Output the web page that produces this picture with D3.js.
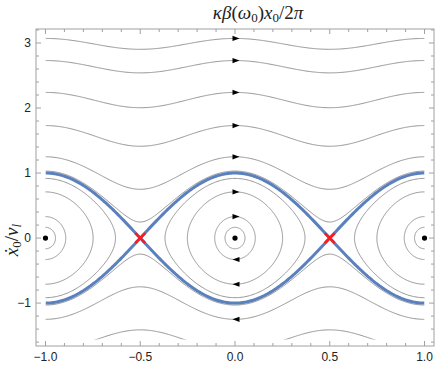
<!DOCTYPE html>
<html lang="en">
  <head>
    <meta charset="UTF-8" />
    <title>phase portrait</title>
    <style>
      body { margin: 0; background: #fff; }
      .tick-label {
        font-family: "Liberation Sans", sans-serif;
        font-size: 12px;
        fill: #222;
      }
      .math {
        font-family: "Liberation Serif", "DejaVu Serif", serif;
        font-size: 19px;
        fill: #222;
      }
      .flow {
        fill: none;
        stroke: #8a8a8a;
        stroke-width: 0.9px;
      }
      .sep {
        fill: none;
        stroke: #5a80bd;
        stroke-width: 3px;
      }
    </style>
  </head>
  <body>
    <script src="https://cdn.jsdelivr.net/npm/d3@7"></script>
    <script>

      // ticks
      var xTicks = [-1.0, -0.5, 0.0, 0.5, 1.0];
      var yTicks = [-1, 0, 1, 2, 3];

      // open streamlines above: y at x = 0
      var upperOpen = [3.07, 2.73, 2.24, 1.73, 1.25, 1.03];
      // open streamlines below: y at x = 0
      var lowerOpen = [-1.03, -1.25, -1.73];
      // closed orbits round each centre: top y at the centre
      var closedTop = [0.165, 0.33, 0.71, 0.917];
      // fixed points
      var centres = [-1, 0, 1];
      var saddles = [-0.5, 0.5];
      // arrows: y at x = 0 of the curve they sit on, and direction
      var arrowsRight = [3.07, 2.73, 2.24, 1.73, 1.25, 0.71, 0.33];
      var arrowsLeft = [-0.33, -0.71, -1.25];

      var w = 435,
          h = 365;

      var svg = d3.select("body").append("svg")
        .attr("width", w)
        .attr("height", h);

      var xScale = d3.scaleLinear()
        .domain([-1.05, 1.05])
        .range([36, 434]);

      var yScale = d3.scaleLinear()
        .domain([-1.66, 3.215])
        .range([346, 29]);

      // conserved quantity: y^2 - cos^2(pi x) = C
      function cos2(x) { var c = Math.cos(Math.PI * x); return c * c; }

      var line = d3.line()
        .x(function(d) { return xScale(d[0]) })
        .y(function(d) { return yScale(d[1]) });

      var xs = d3.range(0, 401).map(function(i) { return -1 + i / 200 });

      function openCurve(y0) {
        var C = y0 * y0 - 1, s = y0 < 0 ? -1 : 1;
        return xs.map(function(x) { return [x, s * Math.sqrt(C + cos2(x))] });
      }

      function closedCurve(cx, y0) {
        var C = y0 * y0 - 1;
        var a = Math.acos(Math.sqrt(-C)) / Math.PI;
        return d3.range(0, 361).map(function(i) {
          var t = i / 360 * 2 * Math.PI;
          var x = cx + a * Math.cos(t);
          var v = Math.sqrt(Math.max(0, C + cos2(x)));
          return [x, Math.sin(t) >= 0 ? v : -v];
        });
      }

      // clip to the streamline region
      svg.append("clipPath").attr("id", "clip")
        .append("rect")
        .attr("x", xScale(-1))
        .attr("y", yScale(3.2))
        .attr("width", xScale(1) - xScale(-1))
        .attr("height", yScale(-1.56) - yScale(3.2));

      var plot = svg.append("g").attr("clip-path", "url(#clip)");

      var curves = [];
      upperOpen.concat(lowerOpen).forEach(function(y0) { curves.push(openCurve(y0)) });
      centres.forEach(function(cx) {
        closedTop.forEach(function(y0) { curves.push(closedCurve(cx, y0)) });
      });

      plot.selectAll("path.flow")
        .data(curves)
        .enter()
        .append("path")
        .attr("class", "flow")
        .attr("d", line);

      // separatrix
      plot.selectAll("path.sep")
        .data([1, -1])
        .enter()
        .append("path")
        .attr("class", "sep")
        .attr("d", function(s) {
          return line(xs.map(function(x) { return [x, s * Math.cos(Math.PI * x)] }));
        });

      // arrows
      var arrows = arrowsRight.map(function(y) { return [y, 1] })
        .concat(arrowsLeft.map(function(y) { return [y, -1] }));

      svg.selectAll("path.arrow")
        .data(arrows)
        .enter()
        .append("path")
        .attr("class", "arrow")
        .attr("fill", "#000")
        .attr("transform", function(d) {
          return "translate(" + (xScale(0) + 1) + "," + yScale(d[0]) + ") scale(" + d[1] + ",1)";
        })
        .attr("d", "M3.5,0 L-3.5,-2.6 L-3.5,2.6 Z");

      // centres
      svg.selectAll("circle.centre")
        .data(centres)
        .enter()
        .append("circle")
        .attr("class", "centre")
        .attr("cx", function(d) { return xScale(d) })
        .attr("cy", yScale(0))
        .attr("r", 2.6)
        .attr("fill", "#000");

      // saddles
      var sad = svg.selectAll("g.saddle")
        .data(saddles)
        .enter()
        .append("g")
        .attr("transform", function(d) { return "translate(" + xScale(d) + "," + yScale(0) + ")" });

      sad.append("path")
        .attr("d", "M-5,-5 L5,5 M-5,5 L5,-5")
        .attr("stroke", "#ff1a1a")
        .attr("stroke-width", 2.6)
        .attr("fill", "none");

      // frame
      svg.append("rect")
        .attr("x", 36)
        .attr("y", 29)
        .attr("width", 434 - 36)
        .attr("height", 346 - 29)
        .attr("fill", "none")
        .attr("stroke", "#a0a0a0")
        .attr("stroke-width", 1);

      var xMinor = d3.range(-10, 11).map(function(i) { return i / 10 });
      var yMinor = d3.range(-8, 17).map(function(i) { return i / 5 });

      var ticks = svg.append("g").attr("stroke", "#a0a0a0").attr("stroke-width", 1);

      xMinor.forEach(function(v) {
        var major = Math.abs(v * 2 - Math.round(v * 2)) < 1e-6;
        var len = major ? 5 : 3, x = xScale(v);
        ticks.append("line").attr("x1", x).attr("x2", x).attr("y1", 346).attr("y2", 346 - len);
        ticks.append("line").attr("x1", x).attr("x2", x).attr("y1", 29).attr("y2", 29 + len);
      });

      yMinor.forEach(function(v) {
        var major = Math.abs(v - Math.round(v)) < 1e-6;
        var len = major ? 5 : 3, y = yScale(v);
        ticks.append("line").attr("x1", 36).attr("x2", 36 + len).attr("y1", y).attr("y2", y);
        ticks.append("line").attr("x1", 434).attr("x2", 434 - len).attr("y1", y).attr("y2", y);
      });

      // tick labels
      function fmt(v, d) {
        var s = Math.abs(v).toFixed(d);
        return (v < 0 ? "\u2212" : "") + s;
      }

      svg.selectAll("text.xl")
        .data(xTicks)
        .enter()
        .append("text")
        .attr("class", "tick-label")
        .attr("x", function(d) { return xScale(d) })
        .attr("y", 361)
        .attr("text-anchor", "middle")
        .text(function(d) { return fmt(d, 1) });

      svg.selectAll("text.yl")
        .data(yTicks)
        .enter()
        .append("text")
        .attr("class", "tick-label")
        .attr("x", 31)
        .attr("y", function(d) { return yScale(d) + 4 })
        .attr("text-anchor", "end")
        .text(function(d) { return fmt(d, 0) });

      // title
      var title = svg.append("text")
        .attr("class", "math")
        .attr("x", 258)
        .attr("y", 19)
        .attr("text-anchor", "middle");
      title.append("tspan").attr("font-style", "italic").text("κβ");
      title.append("tspan").text("(");
      title.append("tspan").attr("font-style", "italic").text("ω");
      title.append("tspan").attr("font-size", "13px").attr("dy", 3).text("0");
      title.append("tspan").attr("dy", -3).text(")");
      title.append("tspan").attr("font-style", "italic").text("x");
      title.append("tspan").attr("font-size", "13px").attr("dy", 3).text("0");
      title.append("tspan").attr("dy", -3).text("/2");
      title.append("tspan").attr("font-style", "italic").text("π");

      // y label
      var ylab = svg.append("text")
        .attr("class", "math")
        .attr("transform", "translate(18,240) rotate(-90)")
        .attr("text-anchor", "middle");
      ylab.append("tspan").attr("font-style", "italic").text("\u1E8B");
      ylab.append("tspan").attr("font-size", "13px").attr("dy", 3).text("0");
      ylab.append("tspan").attr("dy", -3).text("/");
      ylab.append("tspan").attr("font-style", "italic").text("v");
      ylab.append("tspan").attr("font-size", "13px").attr("font-style", "italic").attr("dy", 3).text("l");

    </script>
  </body>
</html>
